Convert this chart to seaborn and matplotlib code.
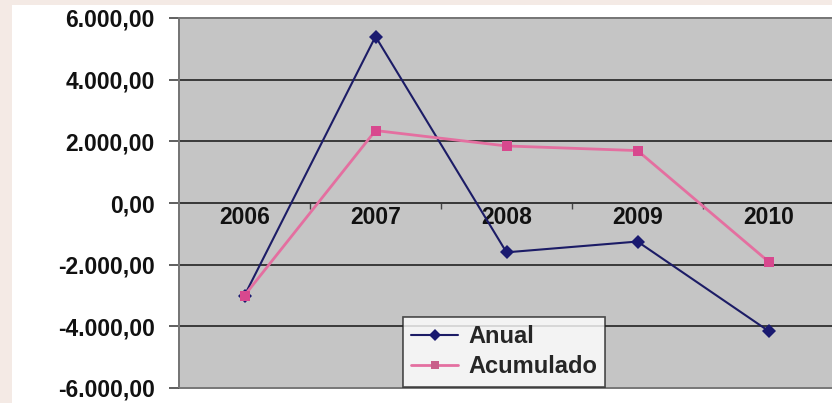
import matplotlib
matplotlib.use("Agg")
import matplotlib.pyplot as plt
import matplotlib.ticker as mticker
from matplotlib.patches import Rectangle
import seaborn as sns
import pandas as pd

# Series values per year
anos = ["2006", "2007", "2008", "2009", "2010"]
anual = [-3000, 5400, -1600, -1250, -4150]
acumulado = [-3000, 2350, 1850, 1700, -1900]
series = ["Anual", "Acumulado"]
y_ticks = [-6000, -4000, -2000, 0, 2000, 4000, 6000]

df = pd.DataFrame({
    "ano": anos * 2,
    "valor": anual + acumulado,
    "serie": [series[0]] * len(anos) + [series[1]] * len(anos),
})

sns.set_theme(style="white")
plt.rcParams["font.family"] = ["Liberation Sans", "DejaVu Sans"]
FS = 16.5

W, H = 832, 403
fig = plt.figure(figsize=(W / 100, H / 100), dpi=100)
fig.patch.set_facecolor("#f4eae5")
fig.patches.append(Rectangle((12 / W, 0), 1, 1 - 5 / H, transform=fig.transFigure,
                             facecolor="white", edgecolor="none", zorder=-10))

left, right, top, bottom = 179, 834, 18, 388
ax = fig.add_axes([left / W, 1 - bottom / H, (right - left) / W, (bottom - top) / H])
ax.set_facecolor("#c5c5c5")

palette = {"Anual": "#1c1c66", "Acumulado": "#e46fa0"}
sns.lineplot(data=df, x="ano", y="valor", hue="serie", style="serie",
             markers={"Anual": "D", "Acumulado": "s"}, dashes=False,
             palette=palette, ax=ax, sort=False, legend=False, zorder=5,
             markersize=7.5, markeredgewidth=0)
for line, lw, mc in zip(ax.lines, [1.5, 2.0], ["#1a1a70", "#d8488e"]):
    line.set_linewidth(lw)
    line.set_markerfacecolor(mc)
    line.set_markeredgecolor(mc)

ax.set_xlim(-0.5, 4.5)
ax.set_ylim(-6000, 6000)
ax.set_xlabel("")
ax.set_ylabel("")

# horizontal gridlines
for v in y_ticks[1:-1]:
    ax.axhline(v, color="#3a3a3a", lw=1.4, zorder=2)

# y axis
def fmt(v, _):
    s = f"{abs(v):,.2f}".replace(",", "X").replace(".", ",").replace("X", ".")
    return ("-" if v < 0 else "") + s

ax.yaxis.set_major_locator(mticker.FixedLocator(y_ticks))
ax.yaxis.set_major_formatter(mticker.FuncFormatter(fmt))
ax.tick_params(axis="y", which="major", left=True, length=7.5, width=1.2,
               color="#444444", pad=10, labelsize=FS)
for lbl in ax.get_yticklabels():
    lbl.set_fontweight("bold")
    lbl.set_color("#111111")

# category axis sits on zero with labels just below it
ax.spines["bottom"].set_position(("data", 0))
ax.spines["bottom"].set_color("#3a3a3a")
ax.spines["bottom"].set_linewidth(1.4)
ax.set_xticks(range(len(anos)))
ax.set_xticklabels(anos)
ax.xaxis.set_minor_locator(mticker.FixedLocator([0.5, 1.5, 2.5, 3.5]))
ax.tick_params(axis="x", which="major", bottom=False, length=0, pad=2, labelsize=FS)
ax.tick_params(axis="x", which="minor", bottom=True, direction="out", length=4,
               width=1.0, color="#444444")
for lbl in ax.get_xticklabels():
    lbl.set_fontweight("bold")
    lbl.set_color("#111111")

for side in ["left", "top", "right"]:
    ax.spines[side].set_color("#777777")
    ax.spines[side].set_linewidth(1.4)
ax.spines["left"].set_color("#555555")
ax.add_patch(Rectangle((0, 0), 1, 1, transform=ax.transAxes, fill=False,
                       edgecolor="#777777", lw=1.4, zorder=3, clip_on=False))

handles = [
    plt.Line2D([], [], color="#1c1c66", lw=1.5, marker="D", markersize=6,
               markerfacecolor="#1a1a70", markeredgewidth=0),
    plt.Line2D([], [], color="#e46fa0", lw=2.0, marker="s", markersize=6,
               markerfacecolor="#c8608a", markeredgewidth=0),
]
leg = ax.legend(handles, series, loc="upper left",
                bbox_to_anchor=(403 / W, 1 - 317 / H), bbox_transform=fig.transFigure,
                borderaxespad=0, frameon=True, fancybox=False, handlelength=2.0,
                handletextpad=0.4, labelspacing=0.3, borderpad=0.35,
                prop={"weight": "bold", "size": 17})
leg.get_frame().set_edgecolor("#222222")
leg.get_frame().set_linewidth(1.2)
leg.get_frame().set_facecolor("white")
leg.set_zorder(10)

fig.savefig("out.png", dpi=100, facecolor=fig.get_facecolor())
